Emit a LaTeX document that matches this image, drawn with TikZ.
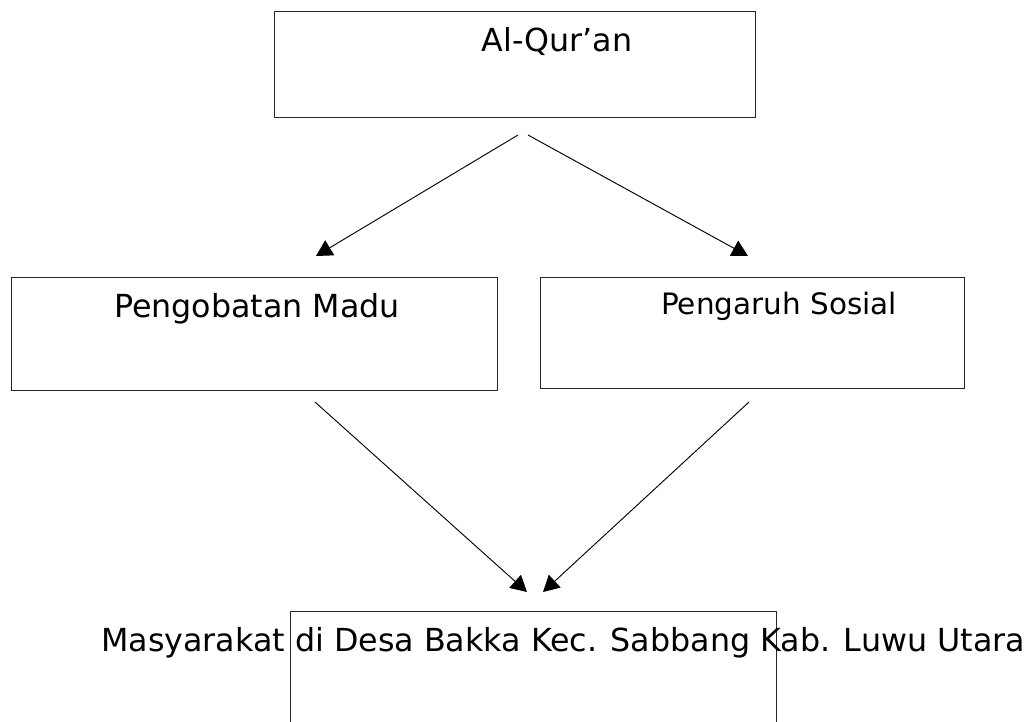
\documentclass[tikz,border=0pt]{standalone}
\usepackage{fontspec}
\setmainfont{DejaVu Sans}
\usetikzlibrary{arrows.meta,positioning}
\tikzset{
  >={Triangle[length=12pt,width=13pt]}
}
\begin{document}
\begin{tikzpicture}[
        x=0.75pt,y=-0.75pt,
        rekt/.style={rectangle,draw=black!85,line width=0.8pt,anchor=north west,inner sep=0pt},
        lbl/.style={anchor=base,inner sep=0pt,font=\fontsize{23.8}{28}\selectfont},
        pil/.style={->,line width=0.7pt}
      ]
      \clip (0,0) rectangle (1034,721);
      \node (QURAN) at (274,11) [rekt,minimum width=481*0.75pt,minimum height=106*0.75pt] {};
      \node (MADU) at (11,277) [rekt,minimum width=486*0.75pt,minimum height=113*0.75pt] {};
      \node (SOSIAL) at (540,277) [rekt,minimum width=424*0.75pt,minimum height=111*0.75pt] {};
      \node (DESA) at (290,611) [rekt,minimum width=486*0.75pt,minimum height=160*0.75pt] {};
      \node (QURANT) at (557,51) [lbl] {Al-Qur’an};
      \node (MADUT) at (257,317) [lbl] {Pengobatan Madu};
      \node (SOSIALT) at (779,314) [lbl,font=\fontsize{22.1}{26}\selectfont] {Pengaruh Sosial};
      \node (DESAT) at (563,651) [lbl] {Masyarakat di Desa Bakka Kec. Sabbang Kab. Luwu Utara};
      % pangkal dan ujung panah
      \coordinate (Q1) at (518,135);
      \coordinate (Q2) at (528,135);
      \coordinate (M1) at (316,256);
      \coordinate (S1) at (748,256);
      \coordinate (M2) at (315,402);
      \coordinate (S2) at (749,402);
      \coordinate (D1) at (527,592);
      \coordinate (D2) at (543,592);
      \draw[pil] (Q1) -- (M1);
      \draw[pil] (Q2) -- (S1);
      \draw[pil] (M2) -- (D1);
      \draw[pil] (S2) -- (D2);
    \end{tikzpicture}
\end{document}
